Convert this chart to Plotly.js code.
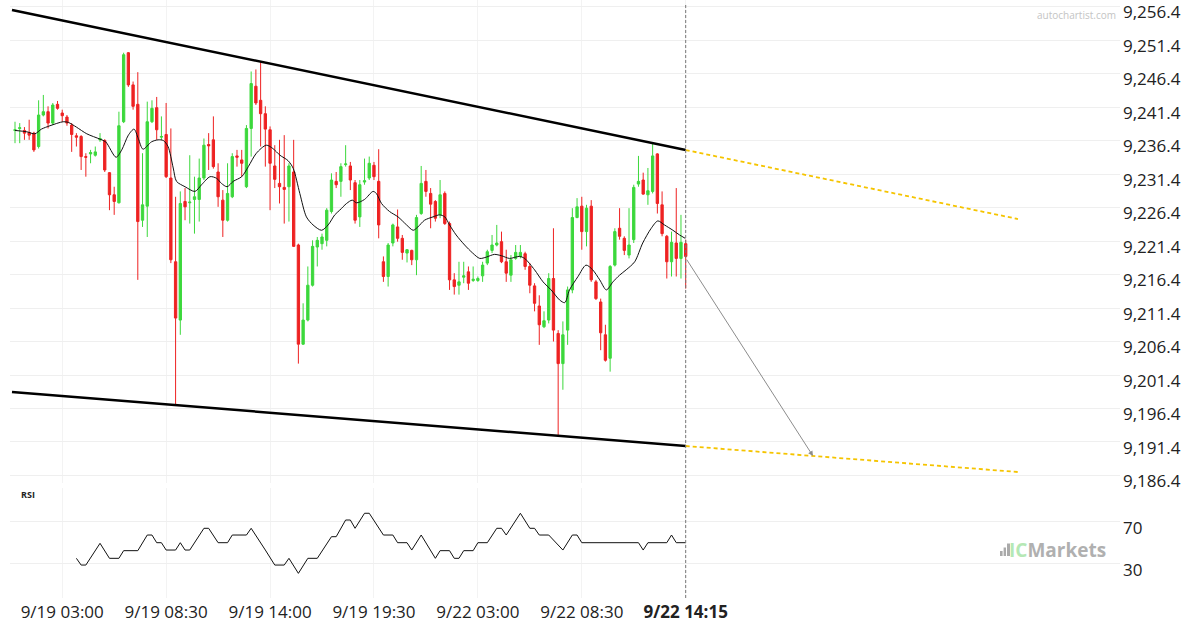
<!DOCTYPE html>
<html><head><meta charset="utf-8">
<script src="https://cdn.plot.ly/plotly-3.0.1.min.js"></script>
<style>html,body{margin:0;padding:0;background:#fff}#chart{width:1200px;height:630px}</style>
</head><body><div id="chart"></div>
<script>
const openP = [9237.9,9238.2,9237.9,9237.6,9237.5,9235.5,9240.2,9240.7,9239.0,9241.8,9240.5,9239.9,9238.7,9237.1,9237.0,9234.0,9234.4,9234.2,9236.5,9236.4,9231.6,9228.3,9227.1,9239.2,9249.5,9244.7,9241.8,9224.5,9226.6,9239.2,9241.3,9236.9,9237.3,9230.8,9218.3,9209.6,9227.3,9227.1,9227.6,9227.6,9230.8,9235.8,9236.5,9231.7,9227.5,9224.5,9228.0,9234.1,9233.5,9229.5,9238.2,9244.5,9242.4,9240.4,9238.0,9232.6,9230.0,9229.4,9229.5,9231.7,9220.8,9206.0,9209.6,9214.8,9220.5,9221.0,9221.5,9225.8,9230.3,9230.3,9232.8,9232.6,9230.1,9225.0,9230.2,9230.8,9232.7,9230.3,9218.3,9216.1,9221.1,9223.5,9221.8,9219.6,9220.0,9218.6,9225.5,9230.3,9228.5,9227.3,9225.3,9228.5,9224.0,9215.6,9214.8,9216.0,9216.8,9215.5,9215.5,9216.2,9218.1,9220.0,9220.8,9221.3,9218.3,9216.3,9218.8,9219.1,9219.5,9217.6,9214.7,9211.7,9208.6,9209.6,9215.8,9207.6,9203.1,9208.1,9214.1,9224.9,9226.6,9222.8,9226.6,9215.3,9212.3,9207.4,9203.9,9217.8,9223.3,9221.8,9219.3,9221.6,9229.9,9230.5,9228.3,9228.8,9234.4,9226.8,9222.1,9218.3,9221.1,9218.8,9221.0];
const highP = [9239.2,9239.0,9238.4,9239.5,9237.7,9242.4,9243.2,9241.5,9242.0,9242.3,9241.0,9240.2,9239.0,9237.5,9237.2,9234.5,9235.0,9235.5,9237.5,9236.6,9231.7,9229.5,9240.7,9249.5,9249.6,9245.2,9246.6,9234.5,9242.2,9242.4,9242.9,9240.0,9242.0,9238.2,9228.0,9228.8,9229.3,9234.2,9231.0,9233.7,9236.7,9237.5,9240.0,9233.0,9229.0,9233.0,9234.5,9235.0,9235.0,9238.7,9246.7,9247.0,9248.2,9241.5,9238.5,9235.7,9236.5,9237.2,9233.0,9236.5,9221.0,9212.1,9217.6,9221.5,9222.0,9222.5,9226.3,9231.5,9231.7,9233.0,9235.7,9233.2,9230.5,9230.5,9233.7,9234.0,9233.2,9235.1,9219.1,9221.1,9224.0,9226.1,9222.3,9220.2,9220.1,9225.3,9232.6,9232.0,9229.3,9227.5,9230.5,9228.8,9224.3,9216.6,9218.3,9218.3,9217.6,9217.6,9216.1,9218.3,9220.1,9222.3,9223.8,9222.8,9220.1,9219.3,9220.8,9220.8,9219.8,9218.1,9215.1,9213.3,9210.9,9216.6,9223.3,9208.1,9209.4,9214.6,9226.3,9227.8,9228.0,9226.8,9227.5,9215.6,9212.8,9208.9,9217.8,9223.3,9226.3,9222.1,9226.3,9229.8,9234.1,9231.6,9232.3,9236.0,9234.5,9228.8,9222.3,9222.8,9229.3,9225.3,9221.6];
const lowP = [9236.0,9236.0,9236.5,9236.5,9234.7,9235.2,9240.0,9238.2,9238.7,9241.0,9239.2,9238.6,9234.7,9235.5,9232.0,9231.0,9233.0,9234.0,9236.2,9231.7,9226.0,9225.3,9227.0,9239.0,9244.4,9241.0,9215.6,9223.5,9222.0,9239.0,9236.5,9236.5,9230.8,9218.1,9196.9,9207.4,9224.5,9224.0,9222.5,9224.3,9230.5,9232.0,9232.2,9226.5,9222.0,9224.3,9227.8,9232.5,9231.0,9229.3,9234.0,9241.7,9235.5,9232.5,9226.0,9229.3,9227.0,9224.0,9224.3,9220.5,9203.1,9205.9,9209.4,9214.6,9217.6,9220.1,9220.6,9225.5,9229.3,9228.0,9232.5,9229.0,9224.0,9223.5,9229.8,9230.5,9230.5,9221.8,9215.3,9214.6,9220.6,9221.3,9218.6,9218.2,9217.8,9216.3,9225.3,9228.0,9223.3,9224.3,9224.8,9223.8,9214.1,9213.4,9213.4,9215.1,9214.1,9215.3,9215.3,9215.3,9217.8,9219.6,9220.6,9218.1,9215.3,9215.3,9218.6,9218.8,9217.1,9213.6,9210.9,9205.9,9208.4,9209.1,9206.4,9192.4,9199.2,9205.9,9213.6,9224.8,9220.1,9220.6,9215.3,9212.6,9205.1,9203.4,9201.9,9217.6,9221.6,9219.3,9218.8,9221.1,9229.5,9228.3,9226.8,9228.5,9225.5,9222.1,9215.8,9216.1,9216.1,9215.8,9214.3];
const closeP = [9238.0,9238.3,9237.5,9237.2,9235.0,9240.2,9240.7,9239.0,9241.7,9241.2,9240.1,9239.0,9237.3,9236.9,9234.0,9233.9,9234.6,9234.7,9236.7,9232.0,9228.3,9227.3,9238.6,9249.2,9244.7,9241.5,9224.3,9226.8,9239.2,9241.2,9238.0,9237.0,9231.0,9218.6,9209.9,9227.0,9226.5,9227.2,9228.0,9230.8,9235.7,9235.6,9232.5,9228.0,9224.5,9228.5,9234.0,9233.9,9233.0,9238.2,9244.9,9242.0,9240.4,9238.1,9233.0,9230.6,9229.5,9229.1,9232.6,9220.6,9206.0,9209.6,9214.8,9220.6,9221.5,9222.0,9226.0,9230.5,9229.8,9232.5,9232.9,9230.5,9224.5,9229.8,9230.4,9233.0,9231.0,9223.8,9216.1,9220.8,9223.8,9221.8,9219.7,9220.1,9218.6,9224.9,9230.0,9228.8,9226.9,9224.8,9228.3,9224.0,9215.6,9214.6,9215.3,9216.2,9215.1,9215.7,9215.8,9217.8,9219.8,9220.8,9221.1,9218.3,9216.6,9218.6,9219.7,9219.7,9217.6,9214.8,9212.1,9208.9,9209.5,9215.8,9208.1,9203.1,9207.4,9214.1,9224.9,9226.5,9222.8,9226.3,9215.6,9212.8,9207.7,9203.6,9217.6,9222.8,9222.1,9220.0,9220.8,9229.4,9230.3,9228.4,9228.9,9234.1,9227.0,9222.5,9218.3,9221.2,9218.8,9221.2,9219.1];

const xTickIdx = [10,32,54,76,98,120,142];
const xTickText = ['9/19 03:00','9/19 08:30','9/19 14:00','9/19 19:30','9/22 03:00','9/22 08:30','<b>9/22 14:15</b>'];

const maIdx = [0,2.5,4.2,5.6,7.4,10.2,11.3,13.0,15.2,18.0,19.2,21.4,22.6,24.0,25.2,26.1,27.1,28.9,30.3,31.4,32.4,33.5,34.2,36.0,38.1,39.5,41.3,42.7,43.7,44.9,46.2,48.0,49.4,51.1,53.2,54.6,56.1,57.8,58.9,60.3,61.7,63.1,64.9,66.3,67.7,68.75,70.2,71.4,72.3,74.0,75.8,76.5,77.6,79.3,81.1,82.9,84.3,85.3,86.7,88.5,89.9,91.0,92.0,93.4,95.2,96.9,98.4,99.8,101.5,103.0,104.7,106.8,107.9,110.0,111.8,113.5,115.3,116.4,117.4,119.2,120.9,122.3,123.8,125.2,126.6,128.0,129.4,131.2,132.9,134.7,136.1,137.5,139.3,140.7,141.9];
const maVal = [9237.9,9237.7,9237.4,9238.1,9238.6,9239.2,9239.1,9238.4,9237.4,9236.6,9236.2,9233.9,9235.0,9237.2,9238.1,9236.7,9235.1,9236.2,9236.5,9236.4,9235.5,9232.3,9230.3,9229.5,9228.8,9229.8,9231.0,9230.75,9230.0,9229.5,9230.3,9231.0,9232.5,9234.5,9235.7,9235.2,9234.2,9233.4,9232.25,9228.5,9225.0,9223.8,9223.0,9223.8,9225.3,9226.0,9227.0,9227.5,9227.1,9227.6,9228.8,9228.5,9227.0,9225.8,9225.0,9223.8,9223.0,9223.5,9224.5,9225.0,9225.3,9225.0,9223.8,9222.3,9220.8,9219.6,9218.8,9219.0,9219.4,9219.2,9218.8,9219.1,9218.8,9217.1,9215.3,9214.1,9212.6,9212.2,9214.1,9216.1,9217.8,9217.1,9215.6,9214.1,9215.3,9216.3,9217.1,9218.3,9221.1,9223.3,9224.4,9223.8,9223.0,9222.3,9221.8];

const rsiIdx = [13,14,15,18,20,22,23,26,28,29,30,31,32,34,35,36,37,40,41,43,45,46,49,50,53,55,57,58,60,62,64,67,68,70,71,72,74,75,78,80,81,83,84,86,89,90,92,93,94,95,97,98,100,102,103,104,107,109,110,111,113,116,118,119,120,132,133,134,138,139,140,142];
const rsiVal = [35.4,29.0,29.0,49.7,35.4,35.4,42.7,42.7,57.6,57.6,50.3,50.3,43.3,43.3,50.3,43.3,43.3,64.0,64.0,50.3,50.3,57.6,57.6,64.0,43.3,29.0,29.0,35.4,21.1,35.4,35.4,56.0,56.0,71.9,71.9,64.0,78.3,78.3,57.6,57.6,50.3,50.3,43.3,57.6,35.4,42.7,42.7,35.4,35.4,42.7,42.7,50.3,50.3,64.0,64.0,57.6,78.3,64.0,64.0,57.6,57.6,43.3,57.6,57.6,50.3,50.3,43.3,50.3,50.3,57.6,50.3,50.3];

const upperIdx = [-0.64,142], upperVal = [9255.88,9234.98];
const upperProjIdx = [142,212.35], upperProjVal = [9234.98,9224.68];
const lowerIdx = [-0.64,142], lowerVal = [9198.86,9190.80];
const lowerProjIdx = [142,212.35], lowerProjVal = [9190.80,9186.92];
const arrowFrom = [142,9218.86], arrowTo = [168.95,9189.31];

const priceTicks = [9186.4,9191.4,9196.4,9201.4,9206.4,9211.4,9216.4,9221.4,9226.4,9231.4,9236.4,9241.4,9246.4,9251.4,9256.4];
const rsiTicks = [30,70];

const barIdx = openP.map((_, i) => i);
const GREEN = '#3cd83c', RED = '#ee2222';

const traces = [
  {type:'candlestick', x:barIdx, open:openP, high:highP, low:lowP, close:closeP, xaxis:'x', yaxis:'y',
   increasing:{line:{color:GREEN,width:1}, fillcolor:GREEN},
   decreasing:{line:{color:RED,width:1}, fillcolor:RED}, whiskerwidth:0, hoverinfo:'skip'},
  {type:'scatter', mode:'lines', x:maIdx, y:maVal, line:{color:'#111',width:1,shape:'spline',smoothing:0.8}, xaxis:'x', yaxis:'y', hoverinfo:'skip'},
  {type:'scatter', mode:'lines', x:upperIdx, y:upperVal, line:{color:'#000',width:2.5}, xaxis:'x', yaxis:'y', hoverinfo:'skip'},
  {type:'scatter', mode:'lines', x:lowerIdx, y:lowerVal, line:{color:'#000',width:2.5}, xaxis:'x', yaxis:'y', hoverinfo:'skip'},
  {type:'scatter', mode:'lines', x:upperProjIdx, y:upperProjVal, line:{color:'#f5c400',width:1.8,dash:'4px,3px'}, xaxis:'x', yaxis:'y', hoverinfo:'skip'},
  {type:'scatter', mode:'lines', x:lowerProjIdx, y:lowerProjVal, line:{color:'#f5c400',width:1.8,dash:'4px,3px'}, xaxis:'x', yaxis:'y', hoverinfo:'skip'},
  {type:'scatter', mode:'lines', x:rsiIdx, y:rsiVal, line:{color:'#111',width:1}, xaxis:'x', yaxis:'y2', hoverinfo:'skip'}
];

function px2x(p){ return (p-10)/1110; }
function py2y(p){ return (598-p)/598; }

const layout = {
  width:1200, height:630,
  margin:{l:10, r:80, t:0, b:32},
  paper_bgcolor:'#fff', plot_bgcolor:'#fff',
  showlegend:false, hovermode:false, dragmode:false,
  font:{family:'"Open Sans", "Noto Sans", sans-serif', color:'#222', size:17},
  xaxis:{range:[-1.0586,233.95], anchor:'y2', tickmode:'array', tickvals:xTickIdx, ticktext:xTickText,
    showgrid:true, gridcolor:'#f3f3f3', zeroline:false, showline:false, ticks:'',
    rangeslider:{visible:false}, tickfont:{size:17, color:'#222'}, ticklabelstandoff:2, fixedrange:true},
  yaxis:{domain:[0.19231,1], range:[9185.28,9257.37], side:'right', anchor:'x', tickmode:'array',
    tickvals:priceTicks, tickformat:',.1f', showgrid:true, gridcolor:'#efefef', zeroline:false,
    showline:false, ticks:'', ticklabelshift:6, ticklabelstandoff:2, tickfont:{size:17,color:'#222'}, fixedrange:true},
  yaxis2:{domain:[0,0.18395], range:[-2.38,102.38], side:'right', anchor:'x', tickmode:'array',
    tickvals:rsiTicks, showgrid:true, gridcolor:'#efefef', zeroline:false, showline:false, ticks:'',
    ticklabelshift:6, ticklabelstandoff:2, tickfont:{size:17,color:'#222'}, fixedrange:true},
  shapes:[
    {type:'line', xref:'x', yref:'paper', x0:142, x1:142, y0:0, y1:py2y(5), line:{color:'#777',width:1,dash:'3px,2px'}},
    {type:'rect', xref:'paper', yref:'paper', x0:px2x(1000), x1:px2x(1002.6), y0:py2y(556), y1:py2y(551), fillcolor:'#aaaaaa', line:{width:0}},
    {type:'rect', xref:'paper', yref:'paper', x0:px2x(1003.6), x1:px2x(1006), y0:py2y(556), y1:py2y(547.5), fillcolor:'#aaaaaa', line:{width:0}},
    {type:'rect', xref:'paper', yref:'paper', x0:px2x(1007), x1:px2x(1010), y0:py2y(556), y1:py2y(543.5), fillcolor:'#aaaaaa', line:{width:0}}
  ],
  annotations:[
    {xref:'x', yref:'y', x:arrowTo[0], y:arrowTo[1], axref:'x', ayref:'y', ax:arrowFrom[0], ay:arrowFrom[1],
     showarrow:true, arrowhead:2, arrowsize:1, arrowwidth:1, arrowcolor:'#8c8c8c', text:'', standoff:0, startstandoff:0},
    {xref:'paper', yref:'paper', x:px2x(28), y:py2y(494), text:'<b>RSI</b>', showarrow:false,
     font:{size:9, color:'#222'}, xanchor:'center', yanchor:'middle'},
    {xref:'paper', yref:'paper', x:px2x(1118), y:py2y(15), text:'autochartist.com', showarrow:false,
     font:{size:10, color:'#c4c4c4'}, xanchor:'right', yanchor:'middle'},
    {xref:'paper', yref:'paper', x:px2x(1108), y:py2y(549.5),
     text:'<b><span style="color:#b5e8b5">IC</span><span style="color:#b0b0b0">Markets</span></b>', showarrow:false,
     font:{size:19, family:'"Open Sans", sans-serif'}, xanchor:'right', yanchor:'middle'}
  ]
};

Plotly.newPlot('chart', traces, layout, {staticPlot:true, displayModeBar:false});
</script>
</body></html>
